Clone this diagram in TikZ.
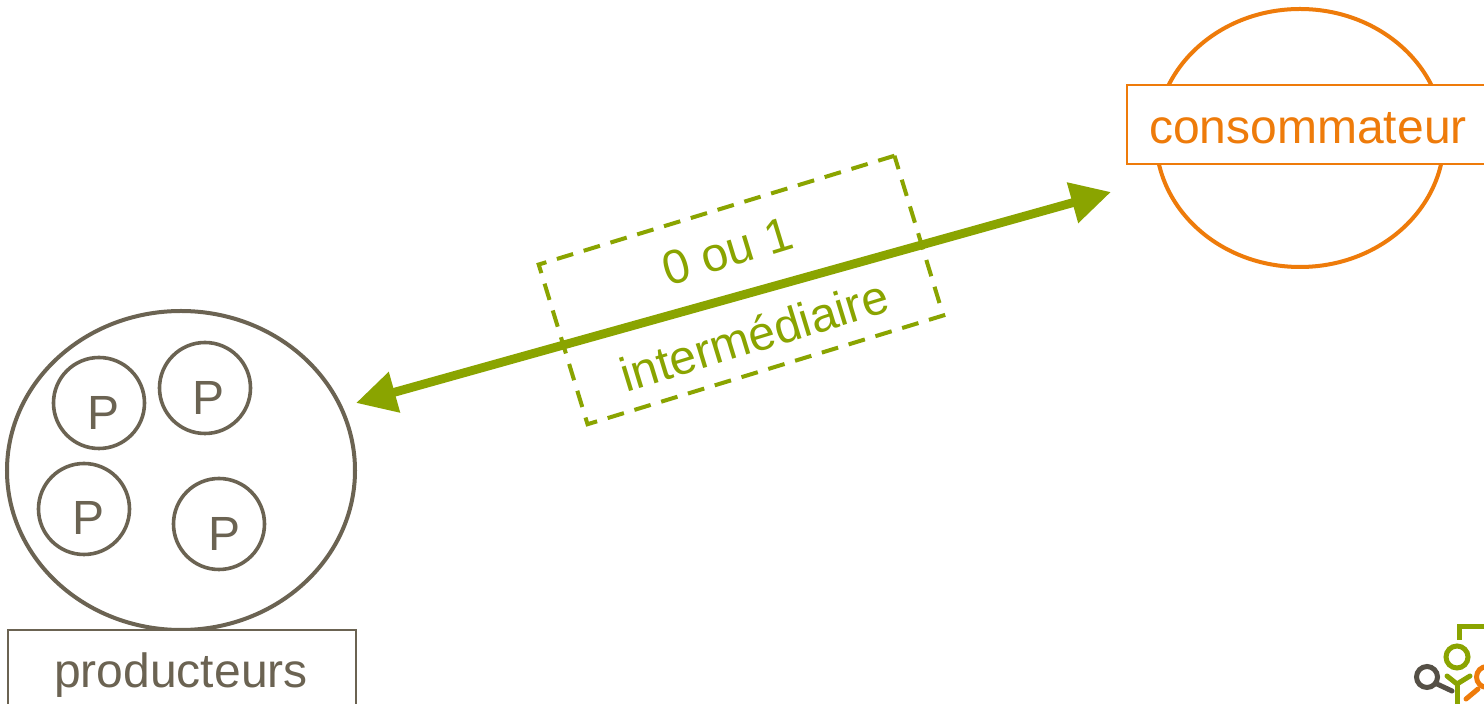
\documentclass[tikz,border=0pt]{standalone}
\usepackage{fontspec}
\setmainfont{Liberation Sans}
\usetikzlibrary{arrows.meta, positioning, shapes.geometric}
\definecolor{prodbrown}{RGB}{107, 99, 82}
\definecolor{consorange}{RGB}{238, 123, 10}
\definecolor{intgreen}{RGB}{138, 164, 0}
\definecolor{logogray}{RGB}{85, 80, 70}
\begin{document}
\begin{tikzpicture}[x=0.5pt, y=-0.5pt, every node/.style={font=\fontsize{24}{28}\selectfont},
  bigcircle/.style={ellipse, draw, line width=2pt, inner sep=0pt},
  pcircle/.style={circle, draw=prodbrown, line width=1.8pt, minimum size=45.5pt, inner sep=0pt},
  ptext/.style={text=prodbrown},
  namebox/.style={rectangle, draw, fill=white, line width=0.7pt, inner sep=0pt},
  logoline/.style={line width=2.5pt, line cap=round}]
  \useasboundingbox (0,0) rectangle (1484,704);
  \clip (0,0) rectangle (1484,704);
  \fill[white] (0,0) rectangle (1484,704);

  % Producers
  \node[bigcircle, draw=prodbrown, minimum width=174pt, minimum height=159.5pt] (prod) at (181,470.5) {};
  \node[pcircle] (p1) at (99,403) {};
  \node[pcircle] (p2) at (205,388) {};
  \node[pcircle] (p3) at (84,509) {};
  \node[pcircle] (p4) at (219,524) {};
  \node[ptext] (t1) at (104,413) {P};
  \node[ptext] (t2) at (209,398) {P};
  \node[ptext] (t3) at (89,518) {P};
  \node[ptext] (t4) at (225,534) {P};
  \node[namebox, draw=prodbrown, text=prodbrown, minimum width=174pt, minimum height=50pt] (prodname) at (182,680) {};
  \node[text=prodbrown] (prodtext) at (181,675) {producteurs};

  % Consumer
  \node[bigcircle, draw=consorange, minimum width=144pt, minimum height=129pt] (cons) at (1300,138) {};
  \node[namebox, draw=consorange, minimum width=180pt, minimum height=39.5pt] (consname) at (1307,124.5) {};
  \node[text=consorange] (constext) at (1308,128) {consommateur};

  % Intermediary
  \node[rectangle, draw=intgreen, line width=2pt, dash pattern=on 8.5pt off 5.5pt,
    rotate=17, minimum width=186pt, minimum height=83.5pt] (inter) at (741,290) {};
  \node[text=intgreen, rotate=17] (zero) at (727,251) {0 ou 1};
  \node[text=intgreen, rotate=17] (intertext) at (754,335) {intermédiaire};

  % Double arrow
  \coordinate (left) at (356,403);
  \coordinate (right) at (1111,192);
  \draw[{Triangle[length=20pt, width=20pt]}-{Triangle[length=20pt, width=20pt]}, line width=4.4pt, intgreen]
    (left) -- (right);

  % Logo
  \draw[logoline, intgreen, line cap=butt] (1484,627) -- (1459,627) -- (1459,640);
  \draw[logoline, intgreen] (1457,657) circle (11);
  \draw[logoline, intgreen] (1447,676) -- (1457,684) -- (1470,676);
  \draw[logoline, intgreen, line cap=butt] (1457,684) -- (1457,704);
  \draw[logoline, logogray] (1427,677) circle (10.5);
  \draw[logoline, logogray] (1437,684) -- (1452,691);
  \draw[logoline, consorange] (1487,677) circle (10.5);
  \draw[logoline, consorange] (1478,689) -- (1466,699);
\end{tikzpicture}
\end{document}
